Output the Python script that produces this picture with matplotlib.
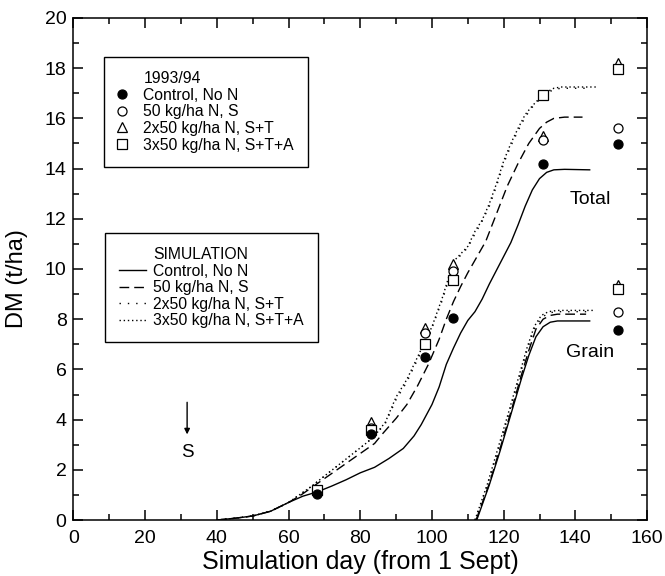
import matplotlib.pyplot as plt
from matplotlib.lines import Line2D
from matplotlib.ticker import MultipleLocator

plt.rcParams['font.family'] = ['Liberation Sans', 'DejaVu Sans']

# Observed DM 1993/94 (total)
obs_days = [68, 83, 98, 106, 131, 152]
obs_control = [1.02, 3.43, 6.5, 8.05, 14.2, 14.97]
obs_50n = [1.1, 3.65, 7.46, 9.92, 15.14, 15.6]
obs_2x50 = [1.2, 3.89, 7.66, 10.2, 15.3, 18.22]
obs_3x50 = [1.18, 3.58, 7.0, 9.56, 16.93, 17.96]

# Observed grain at harvest
grain_obs_day = [152]
grain_obs_control = [7.57]
grain_obs_50n = [8.3]
grain_obs_2x50 = [9.36]
grain_obs_3x50 = [9.19]

# Simulated total DM
sim_days_control = [40, 45, 50, 55, 60, 64, 68, 72, 76, 80, 84, 88, 92, 95, 97,
                    100, 102, 104, 106, 108, 110, 112, 114, 116, 118, 120, 122,
                    124, 126, 128, 130, 132, 134, 137, 144]
sim_control = [0, 0.07, 0.16, 0.35, 0.7, 0.95, 1.12, 1.35, 1.6, 1.88, 2.1, 2.45,
               2.85, 3.35, 3.8, 4.6, 5.3, 6.2, 6.85, 7.45, 7.95, 8.3, 8.8, 9.4,
               9.95, 10.5, 11.05, 11.75, 12.5, 13.15, 13.6, 13.85, 13.95, 13.97, 13.95]

sim_days_50n = [40, 45, 50, 55, 60, 63, 66, 70, 74, 78, 82, 84, 86, 90, 93, 96,
                99, 102, 104, 106, 108, 110, 113, 115, 118, 121, 124, 127, 130,
                132, 134, 137, 142]
sim_50n = [0, 0.07, 0.16, 0.35, 0.7, 0.95, 1.25, 1.65, 2.05, 2.45, 2.85, 3.05,
           3.4, 4.05, 4.6, 5.35, 6.2, 7.2, 8.0, 8.7, 9.3, 9.85, 10.6, 11.1, 12.2,
           13.3, 14.2, 15.0, 15.6, 15.85, 16.0, 16.05, 16.05]

sim_days_2x50 = [40, 45, 50, 55, 60, 63, 66, 70, 74, 78, 82, 84, 87, 90, 93, 96,
                 98, 100, 103, 106, 108, 110, 112, 114, 116, 118, 120, 122, 124,
                 126, 128, 130, 132, 134, 136, 144]
sim_2x50 = [0, 0.07, 0.16, 0.35, 0.7, 1.0, 1.3, 1.75, 2.2, 2.65, 3.1, 3.35, 3.85,
            4.8, 5.5, 6.4, 7.0, 7.65, 8.8, 10.2, 10.55, 10.85, 11.4, 11.9, 12.5,
            13.3, 14.2, 14.9, 15.5, 16.05, 16.45, 16.75, 17.0, 17.15, 17.2, 17.2]

sim_days_3x50 = [40, 45, 50, 55, 60, 63, 66, 70, 74, 78, 82, 84, 87, 90, 93, 96,
                 98, 100, 103, 106, 108, 110, 112, 114, 116, 118, 120, 122, 124,
                 126, 128, 130, 132, 134, 136, 146]
sim_3x50 = [0, 0.07, 0.16, 0.35, 0.7, 1.0, 1.3, 1.75, 2.2, 2.65, 3.1, 3.35, 3.9,
            4.9, 5.6, 6.5, 7.1, 7.7, 8.9, 10.3, 10.6, 10.9, 11.5, 11.95, 12.6,
            13.4, 14.3, 15.0, 15.6, 16.15, 16.5, 16.8, 17.05, 17.2, 17.25, 17.25]

# Simulated grain DM
grain_days_control = [112.5, 116, 119, 122, 125, 127, 129, 131, 133, 135, 144]
grain_control = [0, 1.4, 2.75, 4.2, 5.65, 6.55, 7.3, 7.7, 7.88, 7.93, 7.93]
grain_days_50n = [112.3, 116, 119, 122, 125, 127, 129, 131, 133, 135, 143]
grain_50n = [0, 1.45, 2.85, 4.3, 5.8, 6.75, 7.6, 8.0, 8.15, 8.2, 8.2]
grain_days_2x50 = [112, 115.5, 118.5, 121.5, 124.5, 126.5, 128.5, 130.5, 132.5, 135, 144]
grain_2x50 = [0, 1.4, 2.8, 4.25, 5.75, 6.75, 7.6, 8.05, 8.25, 8.3, 8.3]
grain_days_3x50 = [112, 115.5, 118.5, 121.5, 124.5, 126.5, 128.5, 130.5, 132.5, 135, 145]
grain_3x50 = [0, 1.45, 2.9, 4.35, 5.85, 6.85, 7.7, 8.15, 8.3, 8.35, 8.35]

labels = ["Control, No N", "50 kg/ha N, S", "2x50 kg/ha N, S+T", "3x50 kg/ha N, S+T+A"]
styles = ["-", (0, (7, 3.6)), (0, (1, 5)), (0, (1, 2))]
mk = dict(color="black", markersize=6.5, linestyle="none", markeredgewidth=0.9)

fig = plt.figure(figsize=(6.65, 5.76), dpi=100)
ax = fig.add_axes([0.1105, 0.0972, 0.8625, 0.8716])

sims = [(sim_days_control, sim_control), (sim_days_50n, sim_50n),
        (sim_days_2x50, sim_2x50), (sim_days_3x50, sim_3x50)]
grains = [(grain_days_control, grain_control), (grain_days_50n, grain_50n),
          (grain_days_2x50, grain_2x50), (grain_days_3x50, grain_3x50)]
for (d, v), (gd, gv), ls in zip(sims, grains, styles):
    ax.plot(d, v, color="black", lw=1.0, linestyle=ls)
    ax.plot(gd, gv, color="black", lw=1.0, linestyle=ls)

ax.plot(obs_days, obs_2x50, marker="^", markerfacecolor="white", **mk)
ax.plot(obs_days, obs_50n, marker="o", markerfacecolor="white", **mk)
ax.plot(obs_days, obs_3x50, marker="s", markerfacecolor="white", **mk)
ax.plot(obs_days, obs_control, marker="o", markerfacecolor="black", **mk)
ax.plot(grain_obs_day, grain_obs_2x50, marker="^", markerfacecolor="white", **mk)
ax.plot(grain_obs_day, grain_obs_50n, marker="o", markerfacecolor="white", **mk)
ax.plot(grain_obs_day, grain_obs_3x50, marker="s", markerfacecolor="white", **mk)
ax.plot(grain_obs_day, grain_obs_control, marker="o", markerfacecolor="black", **mk)

ax.set_xlim(0, 160)
ax.set_ylim(0, 20)
ax.xaxis.set_major_locator(MultipleLocator(20))
ax.xaxis.set_minor_locator(MultipleLocator(10))
ax.yaxis.set_major_locator(MultipleLocator(2))
ax.yaxis.set_minor_locator(MultipleLocator(1))
ax.tick_params(which="both", direction="in", top=True, right=True, width=1.1,
               labelsize=14)
ax.tick_params(axis="x", pad=7)
ax.tick_params(axis="y", pad=5)
ax.tick_params(which="major", length=7)
ax.tick_params(which="minor", length=4.5)
for s in ax.spines.values():
    s.set_linewidth(1.1)

ax.set_xlabel("Simulation day (from 1 Sept)", fontsize=18, labelpad=2)
ax.set_ylabel("DM (t/ha)", fontsize=17)
ax.yaxis.set_label_coords(-0.08, 0.48)

ax.text(144.2, 12.75, "Total", fontsize=14, ha="center", va="center")
ax.text(144, 6.67, "Grain", fontsize=14, ha="center", va="center")
ax.annotate("", xy=(31.7, 3.3), xytext=(31.7, 4.8),
            arrowprops=dict(arrowstyle="-|>", color="black", lw=1.0,
                            mutation_scale=8))
ax.text(31.7, 2.7, "S", fontsize=13.5, ha="center", va="center")

blank = Line2D([], [], linestyle="none")
h_obs = [blank,
         Line2D([], [], marker="o", markerfacecolor="black", **mk),
         Line2D([], [], marker="o", markerfacecolor="white", **mk),
         Line2D([], [], marker="^", markerfacecolor="white", **mk),
         Line2D([], [], marker="s", markerfacecolor="white", **mk)]
leg1 = ax.legend(h_obs, ["1993/94"] + labels, loc="upper left",
                 bbox_to_anchor=(0.054, 0.922), borderaxespad=0,
                 fontsize=11.3, handlelength=0.4, handletextpad=1.18,
                 labelspacing=0.1, borderpad=0.9, fancybox=False,
                 edgecolor="black", framealpha=1)
leg1.get_frame().set_linewidth(1.0)
ax.add_artist(leg1)

h_sim = [blank] + [Line2D([], [], color="black", lw=1.0, linestyle=ls) for ls in styles]
leg2 = ax.legend(h_sim, ["SIMULATION"] + labels, loc="upper left",
                 bbox_to_anchor=(0.055, 0.572), borderaxespad=0,
                 fontsize=11.3, handlelength=1.7, handletextpad=0.45,
                 labelspacing=0.1, borderpad=0.9, fancybox=False,
                 edgecolor="black", framealpha=1)
leg2.get_frame().set_linewidth(1.0)

fig.savefig("out.png", dpi=100)
